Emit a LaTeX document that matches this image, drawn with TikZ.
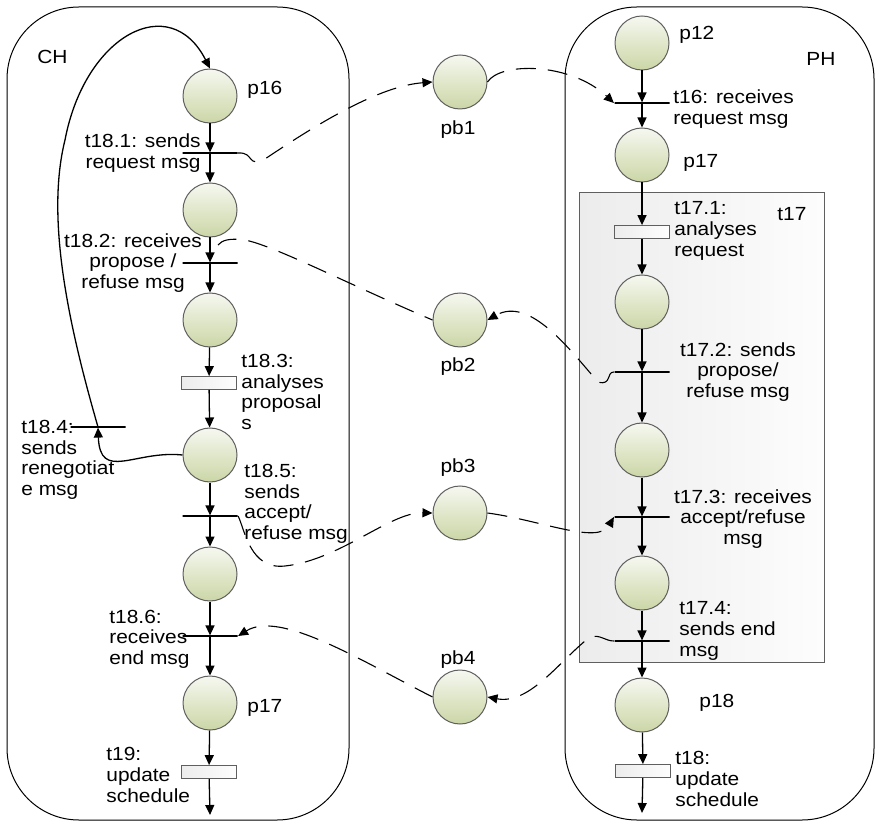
\documentclass[tikz,border=0pt]{standalone}
\usepackage{fontspec}
\setmainfont{Liberation Sans}[FakeStretch=1.1]
\usetikzlibrary{arrows.meta}
\definecolor{plTop}{RGB}{246,248,240}
\definecolor{plBot}{RGB}{203,214,166}
\definecolor{plLine}{RGB}{95,95,95}
\definecolor{boxLeft}{RGB}{236,236,236}
\definecolor{boxRight}{RGB}{253,253,253}
\tikzset{
	place/.style={circle,draw=plLine,line width=0.5pt,top color=plTop,bottom color=plBot,minimum size=27pt,inner sep=0pt},
	bar/.style={draw,line width=0.6pt,minimum width=27.5pt,minimum height=0pt,inner sep=0pt},
	slowbox/.style={draw=plLine,line width=0.4pt,left color=boxLeft,right color=boxRight,minimum width=27.5pt,minimum height=6.5pt,inner sep=0pt},
	lbl/.style={inner sep=0pt,font=\fontsize{9.5}{10.3}\selectfont},
	arc/.style={line width=0.65pt,-{Triangle[length=5pt,width=4.5pt]}},
	msg/.style={line width=0.55pt,dash pattern=on 10pt off 6pt},
	msgarc/.style={msg,-{Triangle[length=5pt,width=4.5pt]}},
	lane/.style={draw,line width=0.5pt,rounded corners=36pt}
}
\begin{document}
\begin{tikzpicture}[x={(0.5pt,0)},y={(0,-0.5pt)}]
	\useasboundingbox (0,0) rectangle (876,822);
	% agents
	\draw[lane] (7,7) rectangle (349,820);
	\draw[lane] (565,7) rectangle (874,820);
	\draw[draw=plLine,line width=0.5pt,left color=boxLeft,right color=boxRight] (579,193) rectangle (824,662);
	\node[lbl,anchor=west] (lCH) at (37,57) {CH};
	\node[lbl,anchor=west] (lPH) at (806,59) {PH};
	\node[lbl,anchor=west] (lt17) at (777,214) {t17};
	
	% CH net
	\node[place] (p16) at (210,96) {};
	\node[bar] (t181) at (210,153) {};
	\node[place] (c2) at (210,210) {};
	\node[bar] (t182) at (210,263) {};
	\node[place] (c3) at (210,320) {};
	\node[slowbox] (t183) at (209,383) {};
	\node[place] (c4) at (210,455) {};
	\node[bar] (t184) at (98,427) {};
	\node[bar] (t185) at (210,516) {};
	\node[place] (c5) at (210,574) {};
	\node[bar] (t186) at (210,636) {};
	\node[place] (p17l) at (210,703) {};
	\node[slowbox] (t19) at (209,772) {};
	\coordinate (endl) at (210,815);
	
	\draw[arc] (p16) -- (t181);
	\draw[arc] (t181) -- (c2);
	\draw[arc] (c2) -- (t182);
	\draw[arc] (t182) -- (c3);
	\draw[arc] (c3) -- (t183);
	\draw[arc] (t183) -- (c4);
	\draw[arc] (c4) -- (t185);
	\draw[arc] (t185) -- (c5);
	\draw[arc] (c5) -- (t186);
	\draw[arc] (t186) -- (p17l);
	\draw[arc] (p17l) -- (t19);
	\draw[arc] (t19) -- (endl);
	\draw[arc] (c4.west) .. controls (135,450) and (100,482) .. (t184.south);
	\draw[arc] (t184.center) .. controls (70,330) and (45,220) .. (65,140)
		.. controls (85,35) and (170,-10) .. (p16.north);
	
	\node[lbl,anchor=west] (lp16) at (247,90) {p16};
	\node[lbl,anchor=east,align=right] (lt181) at (201,153) {t18.1: sends\\request msg};
	\node[lbl,align=center] (lt182) at (133,263) {t18.2: receives\\propose /\\refuse msg};
	\node[lbl,anchor=west,align=left] (lt183) at (241,392) {t18.3:\\analyses\\proposal\\s};
	\node[lbl,anchor=west,align=left] (lt184) at (21,460) {t18.4:\\sends\\renegotiat\\e msg};
	\node[lbl,anchor=west,align=left] (lt185) at (244,504) {t18.5:\\sends\\accept/\\refuse msg};
	\node[lbl,anchor=west,align=left] (lt186) at (109,639) {t18.6:\\receives\\end msg};
	\node[lbl,anchor=west] (lp17l) at (247,708) {p17};
	\node[lbl,anchor=west,align=left] (lt19) at (106,775) {t19:\\update\\schedule};
	
	% PH net
	\node[place] (p12) at (642,43) {};
	\node[bar] (t16) at (642,103) {};
	\node[place] (p17r) at (642,155) {};
	\node[slowbox] (t171) at (642,232) {};
	\node[place] (r3) at (642,302) {};
	\node[bar] (t172) at (642,372) {};
	\node[place] (r4) at (642,450) {};
	\node[bar] (t173) at (642,517) {};
	\node[place] (r5) at (642,583) {};
	\node[bar] (t174) at (642,641) {};
	\node[place] (p18) at (642,705) {};
	\node[slowbox] (t18) at (643,771) {};
	\coordinate (endr) at (642,813);
	
	\draw[arc] (p12) -- (t16);
	\draw[arc] (t16) -- (p17r);
	\draw[arc] (p17r) -- (t171);
	\draw[arc] (t171) -- (r3);
	\draw[arc] (r3) -- (t172);
	\draw[arc] (t172) -- (r4);
	\draw[arc] (r4) -- (t173);
	\draw[arc] (t173) -- (r5);
	\draw[arc] (r5) -- (t174);
	\draw[arc] (t174) -- (p18);
	\draw[arc] (p18) -- (t18);
	\draw[arc] (t18) -- (endr);
	
	\node[lbl,anchor=west] (lp12) at (679,35) {p12};
	\node[lbl,anchor=west,align=left] (lt16) at (673,109) {t16: receives\\request msg};
	\node[lbl,anchor=west] (lp17r) at (683,163) {p17};
	\node[lbl,anchor=west,align=left] (lt171) at (674,231) {t17.1:\\analyses\\request};
	\node[lbl,align=center] (lt172) at (738,372) {t17.2: sends\\propose/\\refuse msg};
	\node[lbl,align=center] (lt173) at (743,519) {t17.3: receives\\accept/refuse\\msg};
	\node[lbl,anchor=west,align=left] (lt174) at (679,631) {t17.4:\\sends end\\msg};
	\node[lbl,anchor=west] (lp18) at (699,703) {p18};
	\node[lbl,anchor=west,align=left] (lt18) at (675,779) {t18:\\update\\schedule};
	
	% message places
	\node[place] (pb1) at (460,82) {};
	\node[place] (pb2) at (460,320) {};
	\node[place] (pb3) at (460,513) {};
	\node[place] (pb4) at (460,697) {};
	\node[lbl] (lpb1) at (458,130) {pb1};
	\node[lbl] (lpb2) at (458,367) {pb2};
	\node[lbl] (lpb3) at (458,468) {pb3};
	\node[lbl] (lpb4) at (458,660) {pb4};
	\coordinate (t182in) at (218,245);
	
	\draw[msgarc] (t181.east) .. controls (255,152) and (246,168) .. (265,159)
		.. controls (320,122) and (380,86) .. (pb1.west);
	\draw[msgarc] (pb1.east) .. controls (500,62) and (570,62) .. (t16.west);
	\draw[msgarc] (t172.west) .. controls (606,372) and (612,386) .. (598,382)
		.. controls (570,350) and (530,296) .. (pb2.east);
	\draw[msg] (t182in) .. controls (222,240) and (230,238) .. (245,240)
		.. controls (275,246) and (350,285) .. (pb2.west);
	\draw[msgarc] (t185.east) .. controls (245,530) and (250,570) .. (285,566)
		.. controls (340,560) and (390,512) .. (pb3.west);
	\draw[msgarc] (pb3.east) .. controls (540,520) and (598,545) .. (t173.west);
	\draw[msgarc] (t174.west) .. controls (605,641) and (600,634) .. (590,637)
		.. controls (560,660) and (530,705) .. (pb4.east);
	\draw[msgarc] (pb4.west) .. controls (360,660) and (280,610) .. (t186.east);
\end{tikzpicture}
\end{document}
